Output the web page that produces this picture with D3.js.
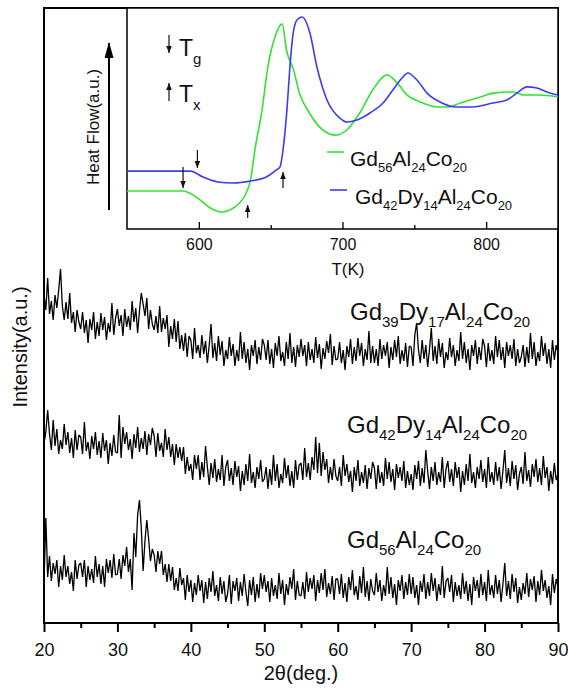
<!DOCTYPE html>
<html>
<head>
<meta charset="utf-8">
<script src="https://cdn.jsdelivr.net/npm/d3@7"></script>
<style>
  body { margin: 0; background: #fff; }
  text { font-family: "Liberation Sans", Arial, sans-serif; fill: #111; }
</style>
</head>
<body>
<script>
// ---- XRD patterns, 2theta from 20 to 90 deg in 0.25 deg steps (a.u.) ----
var thetaStart = 20, thetaStep = 0.25;

var xrdGd39 = [
  78,63,95,59,72,53,78,65,83,104,67,53,71,54,80,50,61,41,63,51,
  44,61,40,53,30,54,43,61,34,51,37,60,43,56,33,50,41,70,38,55,
  64,47,58,37,64,46,57,43,72,51,65,40,62,80,69,57,75,44,63,49,
  43,57,40,67,41,55,44,58,26,47,34,54,31,52,24,38,22,40,16,37,
  33,14,45,20,28,15,38,19,32,10,28,49,15,30,12,37,18,32,7,23,
  14,36,17,29,7,23,12,41,14,31,10,24,3,28,17,33,9,26,13,34,
  28,13,33,9,24,5,30,17,37,12,21,7,31,14,40,10,26,6,28,16,
  34,17,28,7,31,13,24,10,36,15,29,4,25,14,32,20,39,8,27,13,
  14,31,10,23,3,27,16,34,9,26,12,35,17,30,7,24,13,42,10,27,
  10,24,7,34,14,28,17,31,5,26,13,33,16,37,9,23,12,30,6,27,
  26,7,38,50,23,10,33,14,28,6,24,45,12,27,9,34,16,30,5,21,
  13,35,16,28,7,23,12,41,14,31,10,24,3,28,17,33,9,26,13,34,
  27,6,30,12,23,9,37,16,33,13,26,5,31,17,28,14,34,7,24,10,
  16,28,6,26,10,40,14,31,7,21,12,37,17,30,9,24,5,33,13,28,
  20
];

var xrdGd42 = [
  51,63,85,61,45,75,49,66,41,55,46,71,50,63,42,57,37,65,45,60,
  58,41,73,44,53,36,59,46,63,40,54,37,62,44,55,31,52,39,60,43,
  42,80,37,68,51,63,45,56,36,61,47,68,43,57,46,64,40,61,50,67,
  59,38,62,44,52,38,66,45,58,38,51,30,51,37,48,34,48,21,38,24,
  31,15,40,26,40,15,33,18,49,28,10,32,17,36,13,26,15,40,9,28,
  35,14,27,10,34,18,29,4,24,10,31,14,41,12,23,7,28,16,35,13,
  16,28,6,26,10,40,14,31,7,21,12,37,17,30,9,24,7,35,15,30,
  32,15,47,18,32,15,38,25,58,22,52,19,43,25,36,12,28,15,36,19,
  14,28,9,40,19,31,13,24,3,28,14,35,9,23,12,30,6,27,16,33,
  27,6,30,12,23,9,37,16,33,13,26,5,31,17,28,14,34,7,24,10,
  21,5,30,16,34,9,27,12,45,24,6,28,14,33,10,23,13,38,7,26,
  34,13,26,9,33,17,28,3,24,10,31,14,41,12,23,7,28,16,35,13,
  26,7,38,13,23,10,33,14,28,6,24,45,12,27,9,34,16,30,5,21,
  28,11,43,14,25,8,31,18,36,13,27,10,39,17,28,4,24,11,32,15,
  21
];

var xrdGd56 = [
  25,90,31,52,27,45,34,48,21,42,28,53,31,42,24,36,17,48,29,43,
  45,31,48,21,42,28,39,25,52,31,44,24,42,21,49,35,48,30,54,33,
  34,49,29,53,42,61,36,49,18,75,51,93,108,80,37,67,88,69,47,59,
  53,36,57,44,57,33,44,26,44,27,41,18,30,17,40,23,30,8,33,16,
  28,6,25,13,33,17,28,5,26,9,30,16,37,12,23,7,31,14,27,6,
  14,33,4,27,17,30,7,26,12,34,16,2,28,13,31,6,24,10,35,19,
  33,16,27,6,30,12,23,9,35,14,28,3,24,13,31,19,39,8,27,13,
  12,26,9,36,16,30,19,33,7,28,15,35,18,39,11,25,14,32,8,29,
  29,14,34,10,25,6,31,18,38,13,22,8,32,15,41,11,27,7,29,17,
  13,35,16,28,7,23,12,41,14,31,10,24,3,28,17,33,9,26,13,34,
  14,31,10,23,3,27,16,34,9,26,12,35,17,30,7,24,13,42,10,27,
  30,16,33,6,26,12,23,9,35,14,27,7,24,3,31,17,28,10,34,13,
  26,7,38,13,23,10,33,14,28,6,24,45,12,27,9,34,16,30,5,21,
  8,25,14,35,11,29,18,32,6,27,13,38,17,28,10,22,3,34,15,29,
  21
];

var xrdOffsets = [250, 128, 15];
var xrdLabels = [
  ["Gd","39","Dy","17","Al","24","Co","20"],
  ["Gd","42","Dy","14","Al","24","Co","20"],
  ["Gd","56","Al","24","Co","20"]
];
var xTicks = [20, 30, 40, 50, 60, 70, 80, 90];
var xMinorTicks = [25, 35, 45, 55, 65, 75, 85];

// ---- DSC inset ----
var dscTGd56 = [550,589,601,608,616,624,630,636,639,644,648,653,658,661,666,670,677,684,695,703,712,721,731,738,745,754,766,773,782,796,805,819,826,837,850];
var dscHfGd56 = [17.2,17.2,13.1,9.5,7.7,9.5,13.1,22.2,35.7,53.8,73.3,86.9,92.8,81.0,71.9,61.5,52.5,46.2,42.5,44.8,52.5,62.9,69.7,66.1,60.6,57.5,55.2,55.2,57.0,59.7,61.5,62.0,60.6,60.6,59.7];
var dscTGd42 = [550,594,603,613,624,636,647,654,656.5,658.6,661.3,663.4,665.5,668.3,671.8,677.3,682.2,689.2,698.2,703.1,710.1,719.1,728.2,735.1,741.4,745.5,751.8,758.8,767.8,779.6,790.8,804.7,814.4,821.4,828.4,835.3,842.3,850];
var dscHfGd42 = [26.2,26.2,23.5,21.3,20.8,21.7,23.5,26.7,28.1,35.7,53.8,73.3,87.8,94.6,95.9,88.7,73.3,58.4,50.2,48.4,49.3,52.5,57.0,62.9,68.3,70.6,67.4,61.5,57.5,55.2,55.2,57.0,58.4,61.5,64.3,63.8,62.0,60.6];
var dscNames = [["Gd","56","Al","24","Co","20"], ["Gd","42","Dy","14","Al","24","Co","20"]];
var dscColors = ["#33e233", "#3c3cf0"];
var tgMarks = [{T: 589, from: 28.0, to: 18.6}, {T: 599, from: 35.7, to: 27.6}];
var txMarks = [{T: 634, from: 5.0, to: 10.9}, {T: 658.6, from: 18.6, to: 25.8}];
var insetTicks = [600, 700, 800];
var insetMinor = [650, 750];

var W = 568, H = 689;
var svg = d3.select("body").append("svg").attr("width", W).attr("height", H);

var defs = svg.append("defs");
defs.append("marker").attr("id", "ah").attr("viewBox", "0 0 10 10")
  .attr("refX", 10).attr("refY", 5).attr("markerWidth", 7).attr("markerHeight", 7)
  .attr("markerUnits", "userSpaceOnUse").attr("orient", "auto")
  .append("path").attr("d", "M0,1L10,5L0,9Z").attr("fill", "#111");

var x = d3.scaleLinear().domain([20, 90]).range([44, 558]);
var y = d3.scaleLinear().domain([0, 615]).range([623, 8]);

// subscripted formula helper
function formula(g, parts, px, py, size, subSize, drop) {
  var t = g.append("text").attr("x", px).attr("y", py).style("font-size", size + "px");
  parts.forEach(function(p, i) {
    var sub = i % 2 == 1;
    var ts = t.append("tspan").text(p);
    if (sub) ts.attr("dy", drop).style("font-size", subSize + "px");
    else if (i > 0) ts.attr("dy", -drop);
  });
  return t;
}

// XRD traces
var xrd = [xrdGd39, xrdGd42, xrdGd56];
var line = d3.line()
  .x(function(d, i) { return x(thetaStart + i * thetaStep); });
xrd.forEach(function(s, k) {
  var off = xrdOffsets[k];
  line.y(function(d) { return y(d + off); });
  svg.append("path").datum(s).attr("d", line)
    .attr("fill", "none").attr("stroke", "#000").attr("stroke-width", 1.3)
    .attr("stroke-linejoin", "bevel");
});

var labelPos = [[350, 320], [347, 433], [347, 548]];
xrdLabels.forEach(function(l, k) {
  formula(svg, l, labelPos[k][0], labelPos[k][1], 24, 15, 7);
});

// main frame + axis
svg.append("rect").attr("x", 44).attr("y", 8).attr("width", 514).attr("height", 615)
  .attr("fill", "none").attr("stroke", "#000").attr("stroke-width", 2);

var ax = svg.append("g").attr("transform", "translate(0,623)")
  .call(d3.axisBottom(x).tickValues(xTicks).tickSize(9).tickPadding(11).tickFormat(d3.format("d")));
var axm = svg.append("g").attr("transform", "translate(0,623)")
  .call(d3.axisBottom(x).tickValues(xMinorTicks).tickSize(5).tickFormat(""));
[ax, axm].forEach(function(a) {
  a.select(".domain").remove();
  a.selectAll("line").attr("stroke", "#000").attr("stroke-width", 2);
});
ax.selectAll("text").style("font-size", "18px").attr("fill", "#111")
  .style("font-family", "Liberation Sans, Arial, sans-serif");

svg.append("text").attr("x", 301).attr("y", 680).attr("text-anchor", "middle")
  .style("font-size", "20px").text("2θ(deg.)");
svg.append("text").attr("transform", "translate(27,347) rotate(-90)")
  .attr("text-anchor", "middle").style("font-size", "20px").text("Intensity(a.u.)");

// ---- inset ----
var xi = d3.scaleLinear().domain([550, 850]).range([127, 558]);
var yi = d3.scaleLinear().domain([0, 100]).range([229, 8]);
var inset = svg.append("g");
inset.append("rect").attr("x", 127).attr("y", 8).attr("width", 431).attr("height", 221)
  .attr("fill", "#fff").attr("stroke", "#000").attr("stroke-width", 1.5);

var dscLine = d3.line().curve(d3.curveMonotoneX)
  .x(function(d) { return xi(d[0]); }).y(function(d) { return yi(d[1]); });
[[dscTGd56, dscHfGd56], [dscTGd42, dscHfGd42]].forEach(function(s, k) {
  inset.append("path").datum(d3.zip(s[0], s[1])).attr("d", dscLine)
    .attr("fill", "none").attr("stroke", dscColors[k]).attr("stroke-width", 1.6);
});

tgMarks.concat(txMarks).forEach(function(m) {
  inset.append("line").attr("x1", xi(m.T)).attr("x2", xi(m.T))
    .attr("y1", yi(m.from)).attr("y2", yi(m.to))
    .attr("stroke", "#111").attr("stroke-width", 1.2).attr("marker-end", "url(#ah)");
});

var ia = inset.append("g").attr("transform", "translate(0,229)")
  .call(d3.axisBottom(xi).tickValues(insetTicks).tickSize(-7).tickPadding(10).tickFormat(d3.format("d")));
var iam = inset.append("g").attr("transform", "translate(0,229)")
  .call(d3.axisBottom(xi).tickValues(insetMinor).tickSize(-4).tickFormat(""));
[ia, iam].forEach(function(a) {
  a.select(".domain").remove();
  a.selectAll("line").attr("stroke", "#000").attr("stroke-width", 1.3);
});
ia.selectAll("text").style("font-size", "16px").attr("fill", "#111")
  .style("font-family", "Liberation Sans, Arial, sans-serif");

svg.append("text").attr("x", 348).attr("y", 275).attr("text-anchor", "middle")
  .style("font-size", "17px").text("T(K)");
svg.append("text").attr("transform", "translate(99,127) rotate(-90)")
  .attr("text-anchor", "middle").style("font-size", "17px").text("Heat Flow(a.u.)");
// heat flow arrow
svg.append("line").attr("x1", 109).attr("x2", 109).attr("y1", 210).attr("y2", 43)
  .attr("stroke", "#000").attr("stroke-width", 2);
svg.append("path").attr("d", "M109,42L104.5,58L113.5,58Z").attr("fill", "#000");

// Tg / Tx key
svg.append("line").attr("x1", 169).attr("x2", 169).attr("y1", 35).attr("y2", 53)
  .attr("stroke", "#111").attr("stroke-width", 1.2).attr("marker-end", "url(#ah)");
svg.append("line").attr("x1", 169).attr("x2", 169).attr("y1", 101).attr("y2", 83)
  .attr("stroke", "#111").attr("stroke-width", 1.2).attr("marker-end", "url(#ah)");
formula(svg, ["T", "g"], 179, 56, 23, 15, 8);
formula(svg, ["T", "x"], 179, 102, 23, 15, 8);

// legend
var legY = [152, 190], legX = [[327, 344, 350], [330, 347, 355]], legBase = [166, 204];
dscNames.forEach(function(n, k) {
  svg.append("line").attr("x1", legX[k][0]).attr("x2", legX[k][1])
    .attr("y1", legY[k]).attr("y2", legY[k])
    .attr("stroke", dscColors[k]).attr("stroke-width", 1.6);
  formula(svg, n, legX[k][2], legBase[k], 21, 13, 6);
});
</script>
</body>
</html>
